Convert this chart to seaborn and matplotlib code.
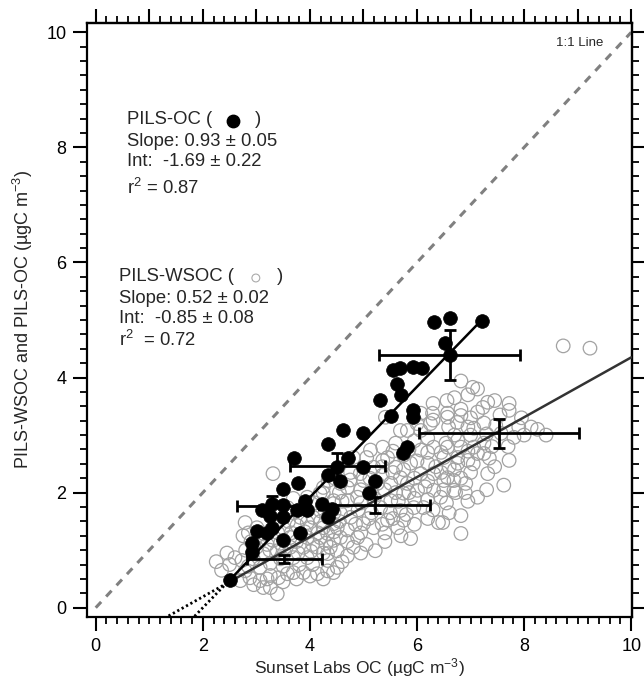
import numpy as np
import pandas as pd
import matplotlib
matplotlib.use("Agg")
import matplotlib.pyplot as plt
import seaborn as sns
from matplotlib.ticker import MultipleLocator, NullFormatter

# ---------------- data ----------------
# PILS-WSOC (open circles): individually readable points
wsoc_x = [6.82, 7.04, 7.13, 7.32, 7.72, 7.72, 7.23, 7.13, 6.82, 6.82, 6.57, 6.59, 6.95, 7.06,
          7.25, 7.47, 7.90, 8.13, 8.41, 7.81, 7.57, 7.25, 7.06, 6.82, 6.57, 6.50, 6.76, 6.95,
          7.13, 7.72, 7.32, 7.62, 6.91, 6.69, 6.50, 6.72, 7.13, 6.82, 6.48, 6.82, 8.73, 9.23,
          6.57, 6.29, 6.07, 5.69, 5.41, 5.13, 5.36, 6.07, 6.31, 6.54, 6.76, 7.25, 6.69, 6.44,
          6.31, 6.01, 5.82, 5.69, 6.07, 6.31, 6.57, 6.82, 5.60, 5.88, 6.20, 6.76, 5.45, 5.75,
          5.19, 5.00, 5.26, 5.51, 5.75, 5.51, 5.32, 5.69, 5.94, 6.12, 5.75, 5.64, 5.88, 6.40,
          5.45, 5.19, 5.22, 4.89, 5.00, 4.76, 4.57, 4.44, 4.33, 4.57, 4.81, 4.51, 4.33, 4.51,
          4.33, 4.89, 4.70, 4.44, 4.70, 4.94, 4.76, 4.81, 4.57, 4.25, 4.44,
          3.31, 2.79, 2.60, 2.73, 2.79, 2.70, 2.88, 3.07, 3.26, 3.39, 3.13, 3.26, 3.41, 3.58,
          3.69, 3.88, 4.14, 4.44, 3.07, 3.26, 3.45, 3.69, 3.95, 4.33, 2.94, 3.13, 3.39, 3.63,
          3.88, 4.14, 4.38, 3.07, 3.31, 3.63, 3.95, 4.19, 4.44, 3.01, 3.26, 3.50, 3.76, 4.01,
          4.25, 4.51, 3.82, 4.06, 4.33, 3.58, 3.69, 3.95, 4.19, 4.44, 4.25, 4.34,
          2.75, 2.25, 2.35, 2.45, 2.85, 3.00, 5.60, 5.82, 6.07, 6.25, 6.30, 5.06, 5.36, 6.56]
wsoc_y = [3.94, 3.83, 3.80, 3.57, 3.55, 3.43, 3.48, 3.40, 3.45, 3.34, 3.31, 3.14, 3.14, 3.12,
          3.21, 3.17, 3.14, 3.14, 3.00, 2.96, 3.03, 2.86, 2.79, 2.79, 2.79, 2.61, 2.61, 2.56,
          2.68, 2.56, 2.33, 2.13, 2.16, 2.21, 2.21, 2.00, 1.92, 1.60, 1.48, 1.29, 4.55, 4.51,
          3.38, 3.38, 3.38, 3.08, 3.31, 2.74, 2.79, 2.74, 2.79, 2.86, 2.91, 2.68, 2.04, 1.92,
          2.04, 2.04, 2.16, 2.26, 2.33, 2.33, 2.26, 2.25, 2.44, 2.51, 2.51, 2.51, 2.61, 2.65,
          2.44, 2.21, 2.16, 2.16, 1.99, 1.86, 1.74, 1.69, 1.74, 1.74, 1.52, 1.39, 1.20, 1.48,
          1.52, 1.39, 0.99, 1.22, 1.46, 1.57, 1.64, 1.46, 1.29, 1.22, 1.05, 0.99, 0.94, 0.70,
          0.64, 1.92, 1.86, 1.81, 2.09, 2.33, 2.35, 2.61, 2.16, 1.99, 2.26,
          2.33, 1.48, 0.87, 0.82, 0.64, 0.47, 0.52, 0.47, 0.35, 0.24, 0.35, 0.56, 0.52, 0.59,
          0.61, 0.61, 0.59, 0.61, 0.70, 0.77, 0.85, 0.87, 0.87, 0.82, 0.85, 0.94, 0.99, 1.05,
          1.05, 1.05, 1.05, 1.17, 1.17, 1.22, 1.22, 1.22, 1.17, 1.39, 1.34, 1.39, 1.43, 1.39,
          1.39, 1.39, 1.57, 1.57, 1.57, 1.74, 1.90, 1.92, 1.99, 1.86, 2.09, 2.21,
          1.25, 0.80, 0.65, 0.95, 1.30, 1.05, 2.86, 3.08, 3.08, 3.20, 3.26, 2.61, 2.56, 3.60]

# PILS-WSOC: estimated points inside the dense, overlapping core of the cloud
wsoc_core_x = [2.95, 3.20, 3.50, 3.75, 4.00, 4.25,
               2.85, 3.50, 3.80, 4.05, 4.60, 2.50,
               2.80, 3.25, 3.52, 3.78, 4.02, 4.25, 4.70, 4.95,
               2.90, 3.20, 3.45, 3.75, 4.05, 4.30, 4.70, 5.05, 5.40,
               3.15, 3.40, 3.65, 3.90, 4.15, 4.45, 4.70, 4.95, 5.40, 5.70,
               3.35, 3.60, 3.95, 4.20, 4.55, 4.85, 5.10, 5.35, 5.55, 5.95, 6.20,
               3.70, 3.95, 4.20, 4.45, 4.90, 5.15, 5.50, 5.80, 6.30, 6.60,
               4.10, 4.60, 4.95, 5.20, 5.65, 5.95, 6.20, 6.55, 6.95,
               4.55, 4.95, 5.15, 5.40, 5.60, 5.85, 6.15, 6.50, 6.90, 7.30,
               4.75, 5.12, 5.35, 5.55, 5.95, 6.20, 6.45, 6.70, 7.00, 7.45,
               5.35, 5.75, 6.00, 6.35, 6.60, 7.05, 7.35,
               5.55, 5.85, 6.20, 6.45, 6.95, 7.40, 7.70,
               5.95, 6.20, 6.70, 7.00, 7.30, 8.00, 8.25,
               6.00, 6.75, 7.00, 7.55, 7.95,
               6.30, 6.70, 6.95, 7.45]
wsoc_core_y = [0.40, 0.50, 0.45, 0.50, 0.55, 0.50,
               0.72, 0.72, 0.75, 0.75, 0.80, 0.75,
               1.00, 1.00, 0.95, 0.95, 0.98, 0.95, 0.90, 0.95,
               1.15, 1.10, 1.12, 1.15, 1.10, 1.12, 1.15, 1.10, 1.15,
               1.28, 1.30, 1.30, 1.32, 1.30, 1.32, 1.35, 1.30, 1.30, 1.25,
               1.50, 1.50, 1.48, 1.50, 1.50, 1.45, 1.55, 1.45, 1.55, 1.45, 1.55,
               1.65, 1.70, 1.68, 1.65, 1.70, 1.65, 1.65, 1.62, 1.70, 1.65,
               1.82, 1.85, 1.82, 1.90, 1.85, 1.90, 1.88, 1.82, 1.85,
               2.00, 2.05, 2.00, 2.05, 2.00, 2.00, 2.10, 2.05, 2.00, 2.05,
               2.22, 2.25, 2.30, 2.35, 2.25, 2.20, 2.35, 2.40, 2.35, 2.45,
               2.45, 2.40, 2.55, 2.45, 2.45, 2.50, 2.60,
               2.72, 2.75, 2.70, 2.70, 2.72, 2.80, 2.80,
               2.90, 2.95, 3.00, 3.00, 3.02, 3.00, 3.10,
               3.20, 3.22, 3.30, 3.35, 3.30,
               3.55, 3.65, 3.70, 3.60]

# PILS-OC (filled circles)
oc_x = [6.31, 6.61, 7.21, 6.52, 6.61, 5.56, 5.69, 5.92, 6.10, 5.62, 5.71, 5.30, 5.51, 5.92,
        5.92, 5.00, 4.61, 4.33, 5.82, 5.73, 4.72, 4.51, 5.00, 3.71, 4.33, 4.57, 5.22, 5.11,
        3.50, 3.78, 3.30, 3.11, 3.50, 3.76, 3.91, 3.95, 4.23, 4.42, 4.33, 3.26, 3.50, 3.30,
        3.01, 3.20, 3.82, 3.50, 2.92, 2.92, 2.51]
oc_y = [4.97, 5.03, 4.98, 4.60, 4.39, 4.13, 4.16, 4.18, 4.16, 3.89, 3.69, 3.61, 3.34, 3.43,
        3.31, 3.03, 3.08, 2.84, 2.79, 2.68, 2.61, 2.44, 2.44, 2.60, 2.30, 2.21, 2.21, 1.99,
        2.07, 2.16, 1.81, 1.69, 1.79, 1.69, 1.85, 1.69, 1.81, 1.72, 1.57, 1.59, 1.57, 1.39,
        1.34, 1.29, 1.29, 1.17, 1.13, 0.96, 0.49]

# binned means with error bars
bin_x = [6.61, 7.53, 4.51, 5.21, 3.30, 3.52]
bin_y = [4.39, 3.03, 2.46, 1.78, 1.76, 0.84]
bin_xerr = [1.32, 1.50, 0.89, 1.04, 0.66, 0.70]
bin_yerr = [0.44, 0.25, 0.22, 0.14, 0.18, 0.07]

# fitted lines as drawn in the reference
oc_slope, oc_int = 0.96, -1.92
wsoc_slope, wsoc_int = 0.52, -0.85
oc_solid = [2.50, 7.21]
oc_dotted = [1.65, 2.50]
wsoc_solid = [2.45, 10.0]
wsoc_dotted = [1.36, 2.45]
one_to_one = [0.0, 10.0]

oc_text = ["PILS-OC (", "Slope: 0.93 \u00b1 0.05", "Int:  -1.69 \u00b1 0.22", "r$^{2}$ = 0.87"]
wsoc_text = ["PILS-WSOC (", "Slope: 0.52 \u00b1 0.02", "Int:  -0.85 \u00b1 0.08", "r$^{2}$  = 0.72"]

# ---------------- style ----------------
sns.set_theme(style="ticks")
plt.rcParams["font.family"] = ["Liberation Sans", "DejaVu Sans"]
plt.rcParams["mathtext.default"] = "regular"

fig = plt.figure(figsize=(6.44, 6.83), dpi=100)
ax = fig.add_axes([0.1356, 0.0971, 0.9818 - 0.1356, 0.9668 - 0.0971])

df_w = pd.DataFrame({"x": wsoc_x + wsoc_core_x, "y": wsoc_y + wsoc_core_y})
df_o = pd.DataFrame({"x": oc_x, "y": oc_y})

sns.scatterplot(data=df_w, x="x", y="y", ax=ax, s=95, marker="o",
                facecolors="none", edgecolor="#a2a2a2", linewidth=0.9, zorder=2)

def line(ax, rng, slope, inter, **kw):
    xs = np.array(rng)
    ax.plot(xs, slope * xs + inter, **kw)

line(ax, wsoc_solid, wsoc_slope, wsoc_int, color="#333333", lw=1.8, zorder=3)
line(ax, wsoc_dotted, wsoc_slope, wsoc_int, color="black", lw=2.0,
     ls=(0, (0.8, 1.0)), zorder=3)

sns.scatterplot(data=df_o, x="x", y="y", ax=ax, s=98, marker="o",
                color="black", edgecolor="black", linewidth=0.5, zorder=4)

line(ax, oc_solid, oc_slope, oc_int, color="black", lw=1.8, zorder=5)
line(ax, oc_dotted, oc_slope, oc_int, color="black", lw=2.0,
     ls=(0, (0.8, 1.0)), zorder=5)

ax.plot(one_to_one, one_to_one, color="#808080", lw=2.2, ls=(0, (2.6, 2.4)), zorder=1)

ax.errorbar(bin_x, bin_y, xerr=bin_xerr, yerr=bin_yerr, fmt="none",
            ecolor="black", elinewidth=2.0, capsize=4.5, capthick=2.0, zorder=6)

# ---------------- annotations ----------------
fs = 13.3
ax.text(0.58, 8.48, oc_text[0], fontsize=fs, va="center", ha="left")
ax.scatter([2.56], [8.46], s=80, color="black", zorder=6)
ax.text(2.97, 8.48, ")", fontsize=fs, va="center", ha="left")
ax.text(0.58, 8.10, oc_text[1], fontsize=fs, va="center", ha="left")
ax.text(0.58, 7.75, oc_text[2], fontsize=fs, va="center", ha="left")
ax.text(0.58, 7.30, oc_text[3], fontsize=fs, va="center", ha="left")

ax.text(0.44, 5.75, wsoc_text[0], fontsize=fs, va="center", ha="left")
ax.scatter([2.99], [5.73], s=32, facecolors="none", edgecolors="#aaaaaa", linewidths=0.8)
ax.text(3.38, 5.75, ")", fontsize=fs, va="center", ha="left")
ax.text(0.44, 5.38, wsoc_text[1], fontsize=fs, va="center", ha="left")
ax.text(0.44, 5.03, wsoc_text[2], fontsize=fs, va="center", ha="left")
ax.text(0.44, 4.66, wsoc_text[3], fontsize=fs, va="center", ha="left")

ax.text(9.04, 9.81, "1:1 Line", fontsize=9.5, va="center", ha="center")

# ---------------- axes ----------------
ax.set_xlim(-0.157, 10.02)
ax.set_ylim(-0.156, 10.167)
ax.xaxis.set_major_locator(MultipleLocator(2))
ax.xaxis.set_minor_locator(MultipleLocator(0.2))
ax.yaxis.set_major_locator(MultipleLocator(2))
ax.yaxis.set_minor_locator(MultipleLocator(0.25))
ax.tick_params(which="major", direction="out", length=10, width=1.5, labelsize=13,
               color="black", labelcolor="black", pad=5)
ax.tick_params(which="minor", direction="out", length=5, width=1.3, color="black")
for sp in ax.spines.values():
    sp.set_visible(True)
    sp.set_linewidth(1.6)
    sp.set_color("black")

top = ax.secondary_xaxis("top")
top.xaxis.set_major_locator(MultipleLocator(1))
top.xaxis.set_minor_locator(MultipleLocator(0.2))
top.xaxis.set_major_formatter(NullFormatter())
top.tick_params(which="major", direction="out", length=10, width=1.5, color="black")
top.tick_params(which="minor", direction="out", length=5, width=1.3, color="black")
top.spines["top"].set_linewidth(1.6)

right = ax.secondary_yaxis("right")
right.yaxis.set_major_locator(MultipleLocator(2))
right.yaxis.set_minor_locator(MultipleLocator(0.25))
right.yaxis.set_major_formatter(NullFormatter())
right.tick_params(which="major", direction="out", length=10, width=1.5, color="black")
right.tick_params(which="minor", direction="out", length=5, width=1.3, color="black")
right.spines["right"].set_linewidth(1.6)

ax.set_xlabel("Sunset Labs OC (\u00b5gC m$^{-3}$)", fontsize=12.5, labelpad=1)
ax.set_ylabel("PILS-WSOC and PILS-OC (\u00b5gC m$^{-3}$)", fontsize=13, labelpad=8)

fig.savefig("out.png", dpi=100, facecolor="white")
